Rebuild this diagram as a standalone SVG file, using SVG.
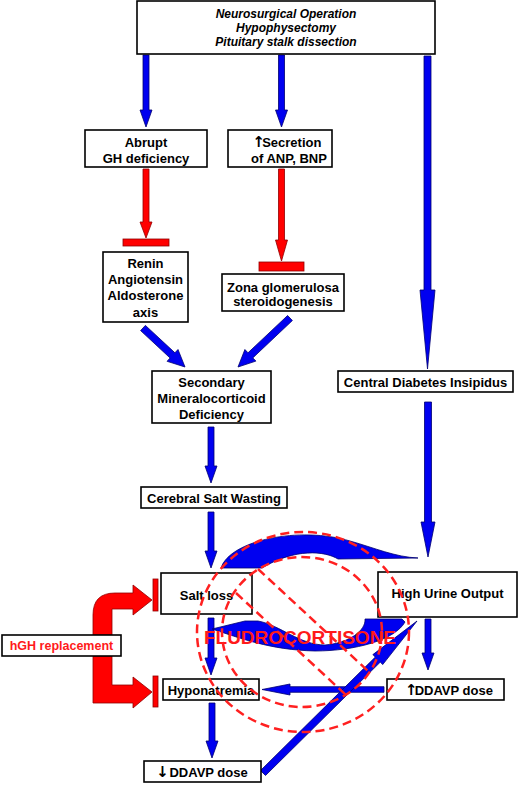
<svg xmlns="http://www.w3.org/2000/svg" width="520" height="785" viewBox="0 0 520 785">
<style>
.box{fill:#fff;stroke:#000;stroke-width:1.6}
.t{font-family:"Liberation Sans",Arial,sans-serif;font-weight:bold;font-size:13px;fill:#000;text-anchor:middle}
.ti{font-family:"Liberation Sans",Arial,sans-serif;font-weight:bold;font-style:italic;font-size:12px;fill:#000;text-anchor:middle}
.tr{font-family:"Liberation Sans",Arial,sans-serif;font-weight:bold;font-size:12.5px;fill:#ff1a1a;text-anchor:middle}
.ar{font-family:"DejaVu Sans",sans-serif;font-size:15px;fill:#000;letter-spacing:-3px}
.blue{fill:#0000f0;stroke:#000070;stroke-width:0.8}
.red{fill:#ff0000;stroke:#900000;stroke-width:0.8}
.ring{fill:none;stroke:#ff2020;stroke-width:2.5;stroke-dasharray:9 5}
</style>
<g id="connectors">
<polygon class="blue" points="143,55 149,55 149,110 152,110 146,127 140,110 143,110"/>
<polygon class="blue" points="278.5,55 284.5,55 284.5,110 287.5,110 281.5,127 275.5,110 278.5,110"/>
<polygon class="blue" points="424,56 431,56 431,290 435,290 427.5,369 420,290 424,290"/>
<polygon class="red" points="143,169 149,169 149,222 152,222 146,238 140,222 143,222"/>
<rect class="red" x="123" y="239" width="46" height="7"/>
<polygon class="red" points="278.5,169 284.5,169 284.5,240 287.5,240 281.5,261 275.5,240 278.5,240"/>
<rect class="red" x="259" y="262" width="45" height="9"/>
<polygon class="blue" points="145.4,325.4 174.9,352.8 178.0,349.5 185,367 167.1,361.3 170.1,358.0 140.6,330.6"/>
<polygon class="blue" points="287.6,315.5 248.0,352.8 244.9,349.5 238,367 255.9,361.1 252.8,357.9 292.4,320.5"/>
<polygon class="blue" points="208,427 214,427 214,466 217,466 211,483 205,466 208,466"/>
<polygon class="blue" points="208,512 214,512 214,551 217,551 211,568 205,551 208,551"/>
<polygon class="blue" points="424.5,402 431.5,402 431.5,522 435,522 428,557 421,522 424.5,522"/>
<polygon class="blue" points="208,618 214,618 214,658 217,658 211,675 205,658 208,658"/>
<polygon class="blue" points="209,703 215,703 215,741 218,741 212,758 206,741 209,741"/>
<polygon class="blue" points="425,619 431,619 431,653 434,653 428,670 422,653 425,653"/>
<polygon class="blue" points="384,686.7 384,692.3 290,692.3 290,695 262,689.5 290,684 290,686.7"/>
<path class="blue" d="M221 568 C230 540 300 526 350 541 C375 548 395 557 418 558 L338 559 C325 551 295 548 262 568 Z"/>
<path class="blue" d="M402 619 L365 619 C366 630 350 643 325 645 C300 645 280 625 258 621 L245 621 L212 629 C240 638 270 650 315 651 C355 651 395 640 405 622 Z"/>
<polygon class="blue" points="260.5,770.5 375.3,657.1 372.9,654.6 417,621 382.7,664.6 380.3,662.1 265.5,775.5"/>
<path class="red" d="M93 635 L93 615 Q93 593 115 593 L133 593 L133 585 L152 600 L133 615 L133 609 L112 609 L112 635 Z"/>
<rect class="red" x="153" y="579" width="5" height="32"/>
<path class="red" d="M93 656 L93 703 L133 703 L133 708 L152 692 L133 677 L133 685 L112 685 L112 656 Z"/>
<rect class="red" x="153" y="676" width="5" height="31"/>
</g>
<g id="n-top"><rect class="box" x="137" y="1" width="298" height="53"/>
<text class="ti" x="286" y="17.5">Neurosurgical Operation</text>
<text class="ti" x="286" y="31.5">Hypophysectomy</text>
<text class="ti" x="286" y="46">Pituitary stalk dissection</text></g>
<g id="n-gh"><rect class="box" x="85" y="130" width="122" height="37"/>
<text class="t" x="146" y="147">Abrupt</text><text class="t" x="146" y="163">GH deficiency</text></g>
<g id="n-anp"><rect class="box" x="228" y="130" width="104" height="37"/>
<text class="t" x="287" y="147"><tspan class="ar">↑</tspan>Secretion</text><text class="t" x="289" y="163">of ANP, BNP</text></g>
<g id="n-renin"><rect class="box" x="103" y="252" width="85" height="70"/>
<text class="t" x="145.5" y="268">Renin</text><text class="t" x="145.5" y="284">Angiotensin</text><text class="t" x="145.5" y="300">Aldosterone</text><text class="t" x="145.5" y="316.5">axis</text></g>
<g id="n-zona"><rect class="box" x="222" y="274" width="122" height="37"/>
<text class="t" x="283" y="291.5">Zona glomerulosa</text><text class="t" x="283" y="305.5">steroidogenesis</text></g>
<g id="n-secondary"><rect class="box" x="152" y="371" width="119" height="52"/>
<text class="t" x="211.5" y="387">Secondary</text><text class="t" x="211.5" y="403">Mineralocorticoid</text><text class="t" x="211.5" y="419">Deficiency</text></g>
<g id="n-cdi"><rect class="box" x="338" y="371" width="175" height="21"/>
<text class="t" x="425.5" y="386.5">Central Diabetes Insipidus</text></g>
<g id="n-csw"><rect class="box" x="141" y="487" width="146" height="21"/>
<text class="t" x="214" y="502.5">Cerebral Salt Wasting</text></g>
<g id="n-saltloss"><rect class="box" x="161" y="573" width="91" height="41"/>
<text class="t" x="206.5" y="599.5">Salt loss</text></g>
<g id="n-huo"><rect class="box" x="378" y="572" width="139" height="45"/>
<text class="t" x="447.5" y="598">High Urine Output</text></g>
<g id="n-hgh"><rect class="box" x="2" y="635" width="119" height="21"/>
<text class="tr" x="61.5" y="650">hGH replacement</text></g>
<g id="n-hypo"><rect class="box" x="163" y="679" width="96" height="21"/>
<text class="t" x="211" y="694.5">Hyponatremia</text></g>
<g id="n-ddavp-up"><rect class="box" x="387" y="679" width="117" height="21"/>
<text class="t" x="449" y="694.5"><tspan class="ar">↑</tspan>DDAVP dose</text></g>
<g id="n-ddavp-down"><rect class="box" x="144" y="761" width="117" height="21"/>
<text class="t" x="202" y="776.5"><tspan class="ar">↓</tspan> DDAVP dose</text></g>
<g id="fludro">
<text x="300" y="644" style="font-family:'Liberation Sans',Arial,sans-serif;font-weight:bold;font-size:19px;fill:#ff1a1a;text-anchor:middle">FLUDROCORTISONE</text>
<ellipse class="ring" cx="303" cy="632" rx="106" ry="100"/>
<ellipse class="ring" cx="302" cy="632" rx="80" ry="75"/>
<line class="ring" x1="258" y1="569" x2="368" y2="671"/>
<line class="ring" x1="236" y1="593" x2="346" y2="695"/>
</g>
</svg>
